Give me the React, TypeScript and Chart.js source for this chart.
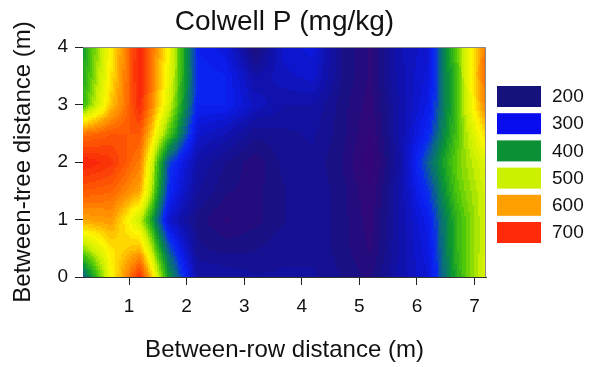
import React, { useEffect, useRef } from "react";
import { Chart, registerables } from "chart.js";

Chart.register(...registerables);

// ---- data ----
const colX = [0.2, 0.7, 1.2, 1.7, 2.2, 2.7, 3.2, 3.7, 4.2, 4.7, 5.2, 5.7, 6.2, 6.7, 7.2];
const rowY = [0, 0.5, 1, 1.5, 2, 2.5, 3, 3.5, 4];

// Colwell P (mg/kg) at each grid node, one array per between-tree distance
const p_y0_0 = [330, 540, 700, 400, 240, 240, 230, 230, 230, 215, 200, 245, 275, 420, 520];
const p_y0_5 = [470, 560, 590, 340, 220, 210, 215, 225, 225, 210, 190, 240, 285, 430, 510];
const p_y1_0 = [600, 610, 500, 270, 210, 190, 200, 215, 225, 210, 185, 240, 295, 430, 510];
const p_y1_5 = [660, 650, 600, 310, 230, 205, 200, 215, 225, 210, 180, 240, 320, 450, 510];
const p_y2_0 = [710, 690, 630, 330, 240, 215, 195, 220, 225, 205, 170, 235, 350, 460, 520];
const p_y2_5 = [640, 660, 660, 450, 270, 250, 220, 225, 230, 210, 178, 240, 310, 445, 570];
const p_y3_0 = [430, 580, 700, 510, 300, 300, 260, 240, 240, 210, 185, 240, 290, 440, 630];
const p_y3_5 = [410, 560, 710, 530, 310, 300, 240, 260, 270, 215, 190, 245, 280, 445, 650];
const p_y4_0 = [400, 550, 710, 540, 300, 280, 200, 270, 280, 215, 190, 250, 270, 455, 640];
const gridRows = [p_y0_0, p_y0_5, p_y1_0, p_y1_5, p_y2_0, p_y2_5, p_y3_0, p_y3_5, p_y4_0];

const xTicks = [1, 2, 3, 4, 5, 6, 7];
const yTicks = [0, 1, 2, 3, 4];

const legendLevels = [200, 300, 400, 500, 600, 700];
const legendColors = ["#16127c", "#0a0cf0", "#0b9036", "#cdf000", "#ffa000", "#ff2a0a"];

// value -> colour stops
const stopValues = [150, 185, 210, 250, 290, 315, 350, 400, 450, 500, 550, 600, 650, 700, 760];
const stopColors = [
  [62, 0, 110], [48, 8, 122], [24, 16, 132], [16, 18, 178], [12, 26, 232], [10, 40, 245],
  [10, 100, 140], [10, 150, 50], [80, 200, 10], [205, 240, 0], [255, 248, 0], [255, 165, 0],
  [255, 100, 0], [250, 40, 10], [235, 10, 10],
];

const FONT = "'Liberation Sans', Arial, Helvetica, sans-serif";
const BAND = 12;

function colorFor(v: number): string {
  const q = Math.floor(v / BAND) * BAND + BAND / 2;
  if (q <= stopValues[0]) return `rgb(${stopColors[0].join(",")})`;
  const n = stopValues.length;
  if (q >= stopValues[n - 1]) return `rgb(${stopColors[n - 1].join(",")})`;
  for (let k = 0; k < n - 1; k++) {
    if (q >= stopValues[k] && q <= stopValues[k + 1]) {
      const t = (q - stopValues[k]) / (stopValues[k + 1] - stopValues[k]);
      const a = stopColors[k], b = stopColors[k + 1];
      const c = a.map((av, i) => Math.round(av + (b[i] - av) * t));
      return `rgb(${c.join(",")})`;
    }
  }
  return "#000";
}

const contourPlugin = {
  id: "contour",
  beforeDatasetsDraw(chart: any) {
    const { ctx, chartArea, scales } = chart;
    const xs = scales.x, ys = scales.y;
    ctx.save();
    ctx.beginPath();
    ctx.rect(chartArea.left, chartArea.top, chartArea.right - chartArea.left, chartArea.bottom - chartArea.top);
    ctx.clip();
    const SUB = 15;
    for (let j = 0; j < rowY.length - 1; j++) {
      for (let i = 0; i < colX.length - 1; i++) {
        const v00 = gridRows[j][i], v10 = gridRows[j][i + 1];
        const v01 = gridRows[j + 1][i], v11 = gridRows[j + 1][i + 1];
        for (let a = 0; a < SUB; a++) {
          const xa = xs.getPixelForValue(colX[i] + ((colX[i + 1] - colX[i]) * a) / SUB);
          const xb = xs.getPixelForValue(colX[i] + ((colX[i + 1] - colX[i]) * (a + 1)) / SUB);
          const tx = (a + 0.5) / SUB;
          for (let b = 0; b < SUB; b++) {
            const ya = ys.getPixelForValue(rowY[j] + ((rowY[j + 1] - rowY[j]) * b) / SUB);
            const yb = ys.getPixelForValue(rowY[j] + ((rowY[j + 1] - rowY[j]) * (b + 1)) / SUB);
            const ty = (b + 0.5) / SUB;
            const v = v00 * (1 - tx) * (1 - ty) + v10 * tx * (1 - ty) + v01 * (1 - tx) * ty + v11 * tx * ty;
            ctx.fillStyle = colorFor(v);
            const x0 = Math.floor(xa), x1 = Math.ceil(xb);
            const y0 = Math.floor(yb), y1 = Math.ceil(ya);
            ctx.fillRect(x0, y0, x1 - x0, y1 - y0);
          }
        }
      }
    }
    ctx.restore();
    // light frame top/right
    ctx.save();
    ctx.strokeStyle = "#8a8a8a";
    ctx.lineWidth = 1;
    ctx.beginPath();
    ctx.moveTo(chartArea.left, chartArea.top + 0.5);
    ctx.lineTo(chartArea.right - 0.5, chartArea.top + 0.5);
    ctx.lineTo(chartArea.right - 0.5, chartArea.bottom);
    ctx.stroke();
    ctx.restore();
  },
  afterDraw(chart: any) {
    const { ctx, chartArea } = chart;
    ctx.save();
    const boxLeft = chartArea.right + 11;
    legendLevels.forEach((lv, k) => {
      const top = 86 + k * 27.2;
      ctx.fillStyle = legendColors[k];
      ctx.fillRect(boxLeft, top, 44, 21);
      ctx.fillStyle = "#111";
      ctx.font = `19px ${FONT}`;
      ctx.textBaseline = "middle";
      ctx.textAlign = "left";
      ctx.fillText(String(lv), boxLeft + 55, top + 11);
    });
    ctx.restore();
  },
};

export default function App() {
  const ref = useRef<HTMLCanvasElement | null>(null);
  useEffect(() => {
    if (!ref.current) return;
    const points: { x: number; y: number }[] = [];
    rowY.forEach((yv) => colX.forEach((xv) => points.push({ x: xv, y: yv })));
    const chart = new Chart(ref.current, {
      type: "scatter",
      data: {
        datasets: [
          {
            label: "Colwell P",
            data: points,
            pointRadius: 0,
            pointHoverRadius: 0,
            showLine: false,
          },
        ],
      },
      options: {
        responsive: false,
        animation: false,
        events: [],
        layout: { padding: { left: 0, right: 110, top: 0, bottom: 0 } },
        plugins: {
          legend: { display: false },
          tooltip: { enabled: false },
          title: {
            display: true,
            text: "Colwell P (mg/kg)",
            fullSize: false,
            color: "#111",
            font: { family: FONT, size: 28, weight: "normal" },
            padding: { top: 5, bottom: 8.4 },
          },
        },
        scales: {
          x: {
            type: "linear",
            min: 0.2,
            max: 7.2,
            afterBuildTicks: (s: any) => {
              s.ticks = xTicks.map((v) => ({ value: v }));
            },
            afterFit: (s: any) => {
              s.height = 90;
            },
            grid: { display: true, drawOnChartArea: false, drawTicks: true, tickLength: 8, tickColor: "#222", color: "#222" },
            border: { display: true, color: "#333", width: 1 },
            ticks: { font: { family: FONT, size: 19 }, color: "#111", padding: 10, maxRotation: 0 },
            title: {
              display: true,
              text: "Between-row distance (m)",
              color: "#111",
              font: { family: FONT, size: 24 },
              padding: { top: 0, bottom: 2 },
            },
          },
          y: {
            type: "linear",
            min: 0,
            max: 4,
            afterBuildTicks: (s: any) => {
              s.ticks = yTicks.map((v) => ({ value: v }));
            },
            afterFit: (s: any) => {
              s.width = 83;
            },
            grid: { display: true, drawOnChartArea: false, drawTicks: true, tickLength: 8, tickColor: "#222", color: "#222" },
            border: { display: true, color: "#333", width: 1 },
            ticks: { font: { family: FONT, size: 19 }, color: "#111", padding: 7 },
            title: {
              display: true,
              text: "Between-tree distance (m)",
              color: "#111",
              font: { family: FONT, size: 24 },
              padding: { top: 9, bottom: 0 },
            },
          },
        },
      },
      plugins: [contourPlugin],
    });
    return () => chart.destroy();
  }, []);
  return (
    <div style={{ position: "fixed", left: 0, top: 0, width: 596, height: 367, background: "#fff" }}>
      <canvas ref={ref} width={596} height={367} style={{ width: "596px", height: "367px" }} />
    </div>
  );
}
